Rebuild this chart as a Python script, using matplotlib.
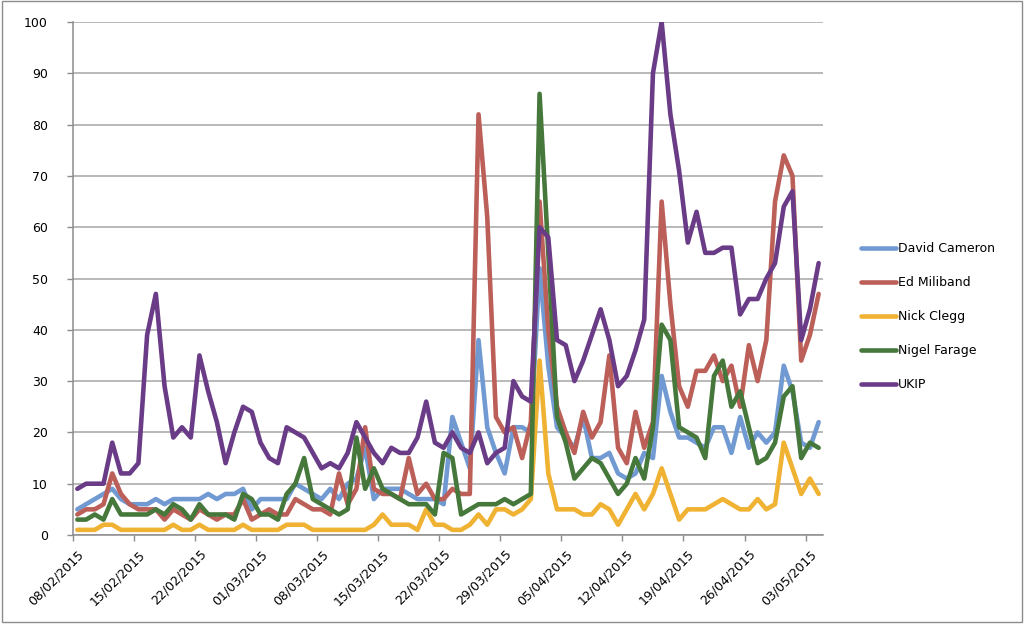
import matplotlib

matplotlib.use("Agg")
import matplotlib.pyplot as plt
import numpy as np
import pandas as pd
from matplotlib.patches import Rectangle
from matplotlib.transforms import ScaledTranslation

# daily mention counts, 08/02/2015 .. 04/05/2015
START = "2015-02-08"
SERIES = ["David Cameron", "Ed Miliband", "Nick Clegg", "Nigel Farage", "UKIP"]

CAMERON = [5, 6, 7, 8, 9, 7, 6, 6, 6, 7, 6, 7, 7, 7,
           7, 8, 7, 8, 8, 9, 5, 7, 7, 7, 7, 10,
           9, 8, 7, 9, 7, 10, 11, 17, 7, 9, 9, 9, 8, 7, 7, 7, 6,
           23, 18, 13, 38, 21, 16, 12, 21, 21, 20, 52, 33, 21, 19,
           17, 23, 15, 15, 16, 12, 11, 12, 16, 15, 31, 24, 19, 19,
           18, 17, 21, 21, 16, 23, 17, 20, 18, 20, 33, 28, 18, 17, 22]
MILIBAND = [4, 5, 5, 6, 12, 8, 6, 5, 5, 5, 3, 5, 4, 3,
            5, 4, 3, 4, 4, 7, 3, 4, 5, 4, 4, 7,
            6, 5, 5, 4, 12, 6, 9, 21, 9, 8, 8, 7, 15, 8, 10, 7, 7,
            9, 8, 8, 82, 62, 23, 20, 21, 15, 22, 65, 40, 25, 20,
            16, 24, 19, 22, 35, 17, 14, 24, 17, 22, 65, 45, 29, 25,
            32, 32, 35, 30, 33, 25, 37, 30, 38, 65, 74, 70, 34, 39, 47]
CLEGG = [1, 1, 1, 2, 2, 1, 1, 1, 1, 1, 1, 2, 1, 1,
         2, 1, 1, 1, 1, 2, 1, 1, 1, 1, 2, 2,
         2, 1, 1, 1, 1, 1, 1, 1, 2, 4, 2, 2, 2, 1, 5, 2, 2,
         1, 1, 2, 4, 2, 5, 5, 4, 5, 7, 34, 12, 5, 5,
         5, 4, 4, 6, 5, 2, 5, 8, 5, 8, 13, 8, 3, 5,
         5, 5, 6, 7, 6, 5, 5, 7, 5, 6, 18, 13, 8, 11, 8]
FARAGE = [3, 3, 4, 3, 7, 4, 4, 4, 4, 5, 4, 6, 5, 3,
          6, 4, 4, 4, 3, 8, 7, 4, 4, 3, 8, 10,
          15, 7, 6, 5, 4, 5, 19, 9, 13, 9, 8, 7, 6, 6, 6, 4, 16,
          15, 4, 5, 6, 6, 6, 7, 6, 7, 8, 86, 55, 23, 18,
          11, 13, 15, 14, 11, 8, 10, 15, 11, 21, 41, 38, 21, 20,
          19, 15, 31, 34, 25, 28, 21, 14, 15, 18, 27, 29, 15, 18, 17]
UKIP = [9, 10, 10, 10, 18, 12, 12, 14, 39, 47, 29, 19, 21, 19,
        35, 28, 22, 14, 20, 25, 24, 18, 15, 14, 21, 20,
        19, 16, 13, 14, 13, 16, 22, 19, 16, 14, 17, 16, 16, 19, 26, 18, 17,
        20, 17, 16, 20, 14, 16, 17, 30, 27, 26, 60, 58, 38, 37,
        30, 34, 39, 44, 38, 29, 31, 36, 42, 90, 100, 82, 71, 57,
        63, 55, 55, 56, 56, 43, 46, 46, 50, 53, 64, 67, 38, 44, 53]

COLORS = ["#729ad2", "#bb5f58", "#f0b232", "#46783c", "#6a3c88"]
Y_TICKS = list(range(0, 101, 10))

dates = pd.date_range(START, periods=len(UKIP), freq="D")
x = np.arange(len(dates))

plt.rcParams["font.family"] = ["DejaVu Sans"]
fig = plt.figure(figsize=(10.24, 6.27), dpi=100)
ax = fig.add_axes([73 / 1024, 1 - 535 / 627, 750 / 1024, 513 / 627])

for name, vals, col in zip(SERIES, [CAMERON, MILIBAND, CLEGG, FARAGE, UKIP], COLORS):
    ax.plot(x, vals, color=col, lw=3.3, label=name,
            solid_joinstyle="round", solid_capstyle="round")

ax.set_xlim(-0.5, len(x) - 0.5)
ax.set_ylim(0, 100)
ax.set_yticks(Y_TICKS)
ax.yaxis.grid(True, color="#a6a6a6", lw=1.1)
ax.set_axisbelow(True)

week = x[::7]
ax.set_xticks(week)
ax.set_xticklabels([d.strftime("%d/%m/%Y") for d in dates[::7]],
                   rotation=45, ha="right", va="top", rotation_mode="anchor")
shift = ScaledTranslation(5 / 100, 0, fig.dpi_scale_trans)
for lbl in ax.get_xticklabels():
    lbl.set_transform(lbl.get_transform() + shift)
ax.set_xticks(week - 0.5, minor=True)
ax.tick_params(axis="x", which="major", length=0, pad=9, labelsize=9)
ax.tick_params(axis="x", which="minor", length=4, color="#8c8c8c", width=1)
ax.tick_params(axis="y", length=4, color="#8c8c8c", width=1, pad=14, labelsize=9)

for s in ["top", "right"]:
    ax.spines[s].set_visible(False)
for s in ["left", "bottom"]:
    ax.spines[s].set_color("#8c8c8c")
    ax.spines[s].set_linewidth(1.1)

fig.legend(loc="upper left", bbox_to_anchor=(861 / 1024, 1 - 242 / 627),
           frameon=False, fontsize=9, handlelength=2.8, handletextpad=0.15,
           labelspacing=1.68, borderaxespad=0, borderpad=0)

fig.patches.append(Rectangle((0.002, 0.008), 0.996, 0.99, transform=fig.transFigure,
                             fill=False, edgecolor="#8c8c8c", lw=1))

fig.savefig("out.png", dpi=100, facecolor="white")
